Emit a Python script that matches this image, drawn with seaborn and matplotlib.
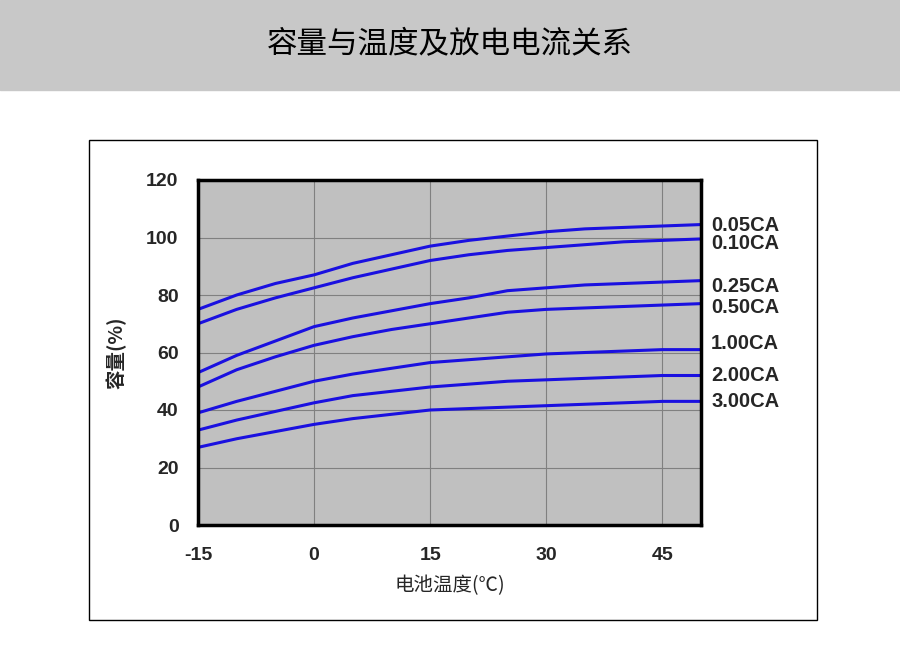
import matplotlib
matplotlib.use("Agg")
import matplotlib.pyplot as plt
import seaborn as sns
import pandas as pd
from matplotlib.patches import Rectangle

sns.set_style("white")
plt.rcParams['font.family'] = ['Noto Sans CJK SC', 'DejaVu Sans']
plt.rcParams['axes.unicode_minus'] = False

temps = [-15, -10, -5, 0, 5, 10, 15, 20, 25, 30, 35, 40, 45, 50]
series_names = ["0.05CA", "0.10CA", "0.25CA", "0.50CA", "1.00CA", "2.00CA", "3.00CA"]
c005 = [75, 80, 84, 87, 91, 94, 97, 99, 100.5, 102, 103, 103.5, 104, 104.5]
c010 = [70, 75, 79, 82.5, 86, 89, 92, 94, 95.5, 96.5, 97.5, 98.5, 99, 99.5]
c025 = [53, 59, 64, 69, 72, 74.5, 77, 79, 81.5, 82.5, 83.5, 84, 84.5, 85]
c050 = [48, 54, 58.5, 62.5, 65.5, 68, 70, 72, 74, 75, 75.5, 76, 76.5, 77]
c100 = [39, 43, 46.5, 50, 52.5, 54.5, 56.5, 57.5, 58.5, 59.5, 60, 60.5, 61, 61]
c200 = [33, 36.5, 39.5, 42.5, 45, 46.5, 48, 49, 50, 50.5, 51, 51.5, 52, 52]
c300 = [27, 30, 32.5, 35, 37, 38.5, 40, 40.5, 41, 41.5, 42, 42.5, 43, 43]
label_y = [104.3, 98, 82.8, 75.8, 63, 52, 42.8]
xticks = [-15, 0, 15, 30, 45]
yticks = [0, 20, 40, 60, 80, 100, 120]

rows = []
for name, vals in zip(series_names, [c005, c010, c025, c050, c100, c200, c300]):
    for t, v in zip(temps, vals):
        rows.append({"t": t, "v": v, "s": name})
df = pd.DataFrame(rows)

fig = plt.figure(figsize=(9, 6.52), dpi=100)
fig.patches.append(Rectangle((0, 652 - 90), 900, 90, transform=None, color="#c8c8c8", zorder=0))
fig.patches.append(Rectangle((88.5, 652 - 620), 728, 480, transform=None, fill=False, ec="black", lw=1, zorder=0))
fig.text(0.5, 1 - 45 / 652, "容量与温度及放电电流关系", ha="center", va="center", fontsize=22,
         fontweight="medium", color="black")

ax = fig.add_axes([198 / 900, 127 / 652, 503 / 900, 345 / 652])
ax.set_facecolor("#c0c0c0")
sns.lineplot(data=df, x="t", y="v", units="s", estimator=None, color="#1a10e0", lw=2.2, ax=ax)
ax.set_xlim(-15, 50)
ax.set_ylim(0, 120)
ax.set_xticks(xticks)
ax.set_yticks(yticks)
ax.grid(True, color="#808080", lw=0.8)
for sp in ax.spines.values():
    sp.set_linewidth(2.5)
    sp.set_color("black")
ax.tick_params(axis="y", labelsize=14, length=0, pad=14)
ax.tick_params(axis="x", labelsize=14, length=0, pad=16)
for lab in ax.get_xticklabels() + ax.get_yticklabels():
    lab.set_fontweight("bold")
    lab.set_family(["Liberation Sans"])
ax.set_xlabel("电池温度(℃)", fontsize=14, labelpad=8)
ax.set_ylabel("容量(%)", fontsize=14, fontweight="bold", labelpad=14)
for name, y in zip(series_names, label_y):
    ax.text(51.3, y, name, fontsize=14.5, fontweight="bold", va="center", ha="left",
            family=["Liberation Sans"], clip_on=False)
fig.savefig("out.png", dpi=100)
